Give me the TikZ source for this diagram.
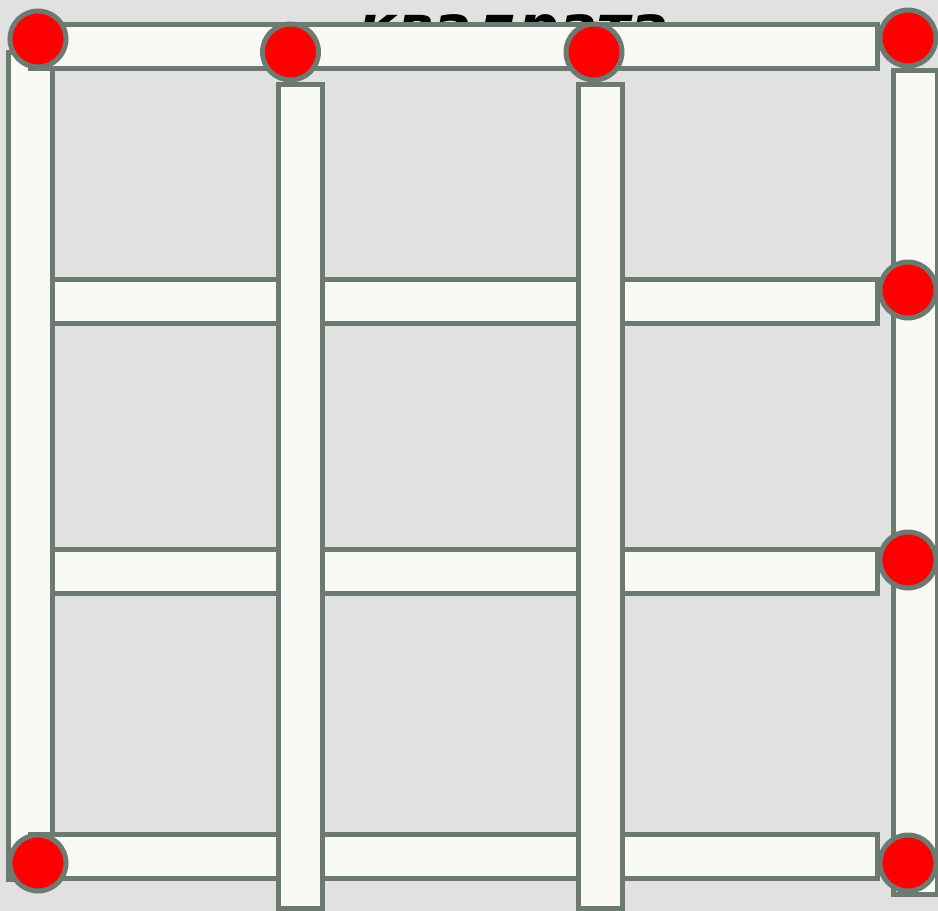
\documentclass[tikz,border=0pt]{standalone}
\usepackage{fontspec}
\newfontfamily\labelfont{DejaVu Sans}
\usepackage{xcolor}
\usepackage{tikz}
\usetikzlibrary{positioning}
\definecolor{bggray}{HTML}{E1E1E1}
\definecolor{stickfill}{HTML}{F9FAF5}
\definecolor{stickline}{HTML}{6C7A71}

\begin{document}
\begin{tikzpicture}[x=1pt, y=-1pt,
    stick/.style={draw=stickline, fill=stickfill, line width=5pt},
    head/.style={circle, draw=stickline, fill=red, line width=5pt, minimum size=56pt, inner sep=0pt},
    title_text/.style={font=\labelfont\bfseries\itshape\fontsize{57}{60}\selectfont}
]

% --- Background ---
\fill[bggray] (0,0) rectangle (938,911);
\useasboundingbox (0,0) rectangle (938,911);

% --- Title (mostly hidden behind the top row) ---
\node[title_text, anchor=base, inner sep=0pt] (title) at (514,46) {квадрата};

% --- Outer columns ---
\draw[stick] (8.5,52.5) rectangle (52.5,879.5);
\draw[stick] (893.5,70) rectangle (937.5,894);

% --- Rows ---
\draw[stick] (30,24) rectangle (877.5,68.5);
\foreach \y in {301,571} {
    \draw[stick] (52.5,\y-22) rectangle (877.5,\y+22);
}
\draw[stick] (30,834) rectangle (877.5,878.5);

% --- Inner columns ---
\foreach \x in {300.5,600} {
    \draw[stick] (\x-22,84) rectangle (\x+22,908.5);
}

% --- Match heads ---
\node[head] (headA) at (38,39) {};
\node[head] (headB) at (290.5,52) {};
\node[head] (headC) at (594,52) {};
\node[head] (headD) at (908,38) {};
\node[head] (headE) at (908,290) {};
\node[head] (headF) at (908,560) {};
\node[head] (headG) at (38,863) {};
\node[head] (headH) at (908,863) {};

\end{tikzpicture}
\end{document}
